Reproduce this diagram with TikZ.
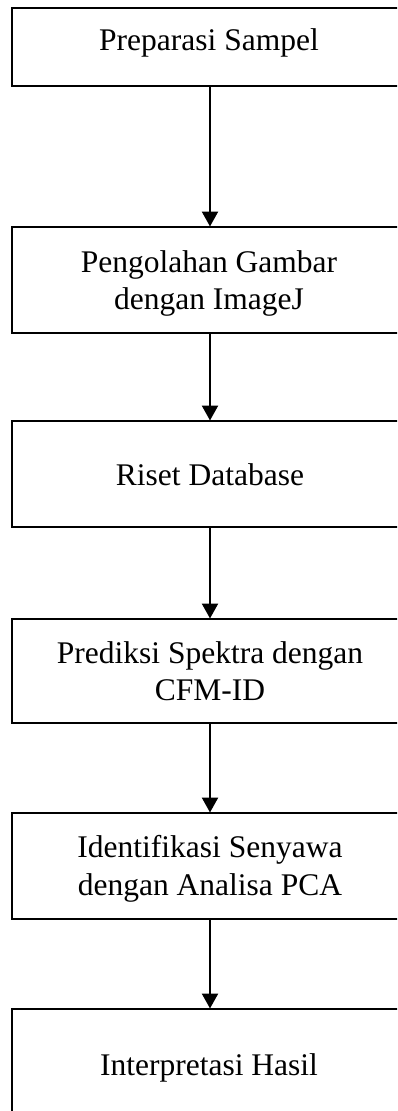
\documentclass[tikz,border=0pt]{standalone}
\usepackage{fontspec}
\setmainfont{Liberation Serif}
\usetikzlibrary{arrows.meta}
\begin{document}
\begin{tikzpicture}[x=1pt,y=-1pt,
  stepbox/.style={draw=black,line width=1.6pt,fill=none,anchor=north west,minimum width=396pt,inner sep=0pt,outer sep=0pt},
  lbl/.style={anchor=base,inner sep=0pt,font=\fontsize{31.5}{37.5}\selectfont},
  arr/.style={line width=2.4pt,-{Triangle[length=15pt,width=16pt]},shorten >=0.5pt}]
\useasboundingbox (0,0) rectangle (397,1111);
\clip (0,0) rectangle (397,1111);
\node[stepbox,minimum height=78pt] (b1) at (12,8) {};
\node[stepbox,minimum height=106pt] (b2) at (12,227) {};
\node[stepbox,minimum height=106pt] (b3) at (12,421) {};
\node[stepbox,minimum height=104pt] (b4) at (12,619) {};
\node[stepbox,minimum height=106pt] (b5) at (12,813) {};
\node[stepbox,minimum height=140pt] (b6) at (12,1009) {};
\node[lbl] (t1) at (209,50) {Preparasi Sampel};
\node[lbl] (t2a) at (209,272) {Pengolahan Gambar};
\node[lbl] (t2b) at (209,309) {dengan ImageJ};
\node[lbl] (t3) at (210,485) {Riset Database};
\node[lbl] (t4a) at (210,663) {Prediksi Spektra dengan};
\node[lbl] (t4b) at (210,700) {CFM-ID};
\node[lbl] (t5a) at (210,857) {Identifikasi Senyawa};
\node[lbl] (t5b) at (210,895) {dengan Analisa PCA};
\node[lbl] (t6) at (209,1075) {Interpretasi Hasil};
\draw[arr] (b1.south) -- (b2.north);
\draw[arr] (b2.south) -- (b3.north);
\draw[arr] (b3.south) -- (b4.north);
\draw[arr] (b4.south) -- (b5.north);
\draw[arr] (b5.south) -- (b6.north);
\end{tikzpicture}
\end{document}
